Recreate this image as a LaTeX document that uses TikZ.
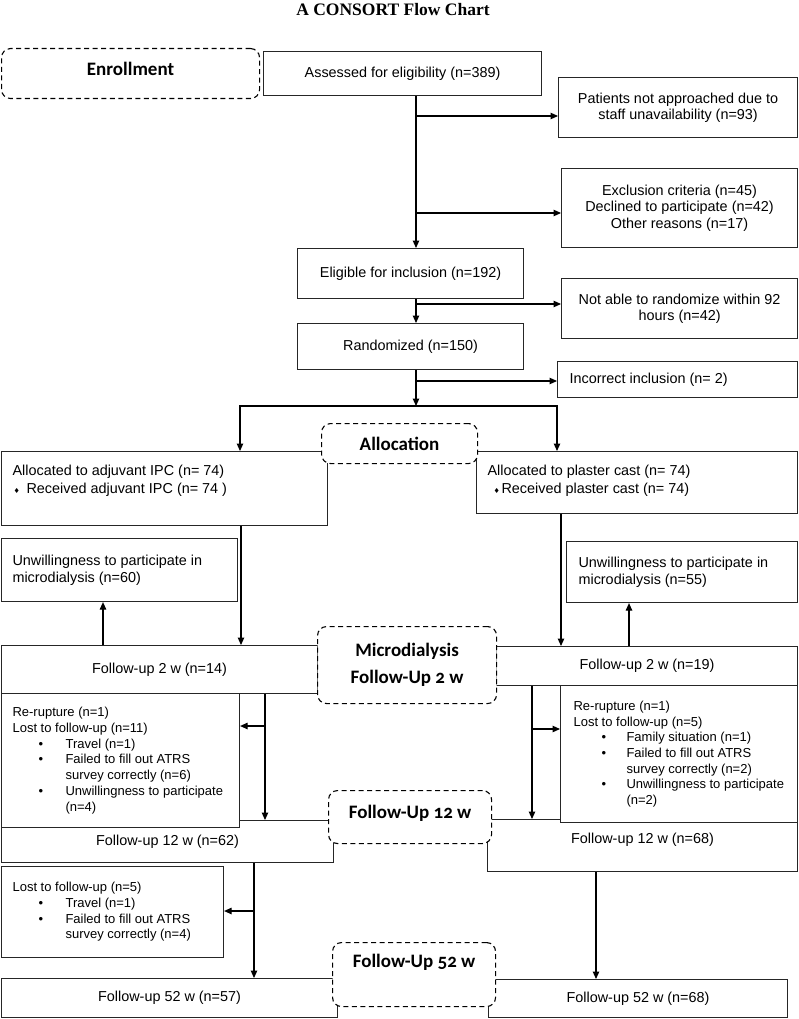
\documentclass[tikz,border=0pt]{standalone}
\usepackage{fontspec}
\setmainfont{Liberation Sans}
\newfontfamily\titlefont{Liberation Serif}
\newfontfamily\labfont{Carlito}[Numbers=OldStyle]
\newfontfamily\symfont{DejaVu Sans}
\usetikzlibrary{arrows.meta}
\newcommand\bx[8]{\node[#1] (#2) at (#3,#4) {\parbox[c][\dimexpr #6pt-#4pt\relax][#7]{\dimexpr #5pt-#3pt\relax}{#8}};}
\newcommand\bul[3]{\hspace*{#1}\makebox[#2][l]{\textbullet}#3}
\newcommand\dmd[1]{\makebox[14pt][l]{\hspace{#1}{\symfont\fontsize{7}{7}\selectfont ♦}}}
\tikzset{
 box/.style={draw=black!85, line width=1.1pt, fill=white, inner sep=0pt, anchor=north west, font=\fontsize{14.4}{16.5}\selectfont},
 sbox/.style={box, font=\fontsize{13}{15.7}\selectfont},
 lab/.style={box, draw=black, dash pattern=on 5pt off 3.5pt, rounded corners=9pt, font=\labfont\bfseries\fontsize{19}{27}\selectfont},
 arr/.style={draw=black, line width=1.1pt, -{Triangle[length=7.5pt,width=6.5pt]}},
 ln/.style={draw=black, line width=1.1pt}
}
\begin{document}
\begin{tikzpicture}[x=1pt,y=-1pt]
\useasboundingbox (0,0) rectangle (798,1019);
\node[font=\titlefont\bfseries\fontsize{17.5}{20}\selectfont] (title) at (393,10) {A CONSORT Flow Chart};
% solid boxes
\bx{box}{assess}{263}{51}{541}{95}{c}{\centering Assessed for eligibility (n=389)}
\bx{box}{pat}{558}{77}{797}{137}{c}{\centering Patients not approached due to\\ staff unavailability (n=93)}
\bx{box}{excl}{561}{168}{797}{247}{c}{\centering Exclusion criteria (n=45)\\ Declined to participate (n=42)\\ Other reasons (n=17)}
\bx{box}{elig}{297}{248}{523}{298}{c}{\centering Eligible for inclusion (n=192)}
\bx{box}{notrand}{561}{278}{797}{338}{c}{\centering Not able to randomize within 92\\ hours (n=42)}
\bx{box}{rand}{297}{323}{523}{369}{c}{\centering Randomized (n=150)}
\bx{box}{incorr}{557}{361}{797}{397}{c}{\raggedright\leftskip=12pt Incorrect inclusion (n= 2)}
\bx{box}{allocL}{1}{451}{327}{525}{t}{\vspace*{14pt}\raggedright\leftskip=11pt\baselineskip=18pt Allocated to adjuvant IPC (n= 74)\\ \dmd{1pt}Received adjuvant IPC (n= 74 )}
\bx{box}{allocR}{476}{451}{797}{513}{t}{\vspace*{14pt}\raggedright\leftskip=11pt\baselineskip=18pt Allocated to plaster cast (n= 74)\\ \dmd{6pt}Received plaster cast (n= 74)}
\bx{box}{unwL}{1}{538}{237}{601}{c}{\raggedright\leftskip=11pt Unwillingness to participate in\\ microdialysis (n=60)}
\bx{box}{unwR}{566}{541}{797}{602}{c}{\raggedright\leftskip=12pt Unwillingness to participate in\\ microdialysis (n=55)}
\bx{box}{fu2L}{1}{645}{317}{693}{c}{\centering Follow-up 2 w (n=14)}
\bx{box}{fu2R}{496}{646}{797}{685}{c}{\centering Follow-up 2 w (n=19)}
\bx{box}{fu12L}{1}{820}{333}{862}{c}{\centering Follow-up 12 w (n=62)}
\bx{box}{fu12R}{487}{819}{797}{871}{t}{\vspace*{14pt}\centering Follow-up 12 w (n=68)}
\bx{sbox}{exL}{1}{693}{239}{827}{c}{\raggedright\leftskip=11pt Re-rupture (n=1)\\ Lost to follow-up (n=11)\\ \bul{26pt}{27pt}{Travel (n=1)}\\ \bul{26pt}{27pt}{Failed to fill out ATRS}\\ \hspace*{53pt}survey correctly (n=6)\\ \bul{26pt}{27pt}{Unwillingness to participate}\\ \hspace*{53pt}(n=4)}
\bx{sbox}{exR}{560}{685}{797}{822}{c}{\raggedright\leftskip=13pt Re-rupture (n=1)\\ Lost to follow-up (n=5)\\ \bul{28pt}{25pt}{Family situation (n=1)}\\ \bul{28pt}{25pt}{Failed to fill out ATRS}\\ \hspace*{53pt}survey correctly (n=2)\\ \bul{28pt}{25pt}{Unwillingness to participate}\\ \hspace*{53pt}(n=2)}
\bx{sbox}{lostL}{1}{866}{223}{957}{c}{\raggedright\leftskip=11pt Lost to follow-up (n=5)\\ \bul{26pt}{27pt}{Travel (n=1)}\\ \bul{26pt}{27pt}{Failed to fill out ATRS}\\ \hspace*{53pt}survey correctly (n=4)}
\bx{box}{fu52L}{1}{978}{337}{1017}{c}{\centering Follow-up 52 w (n=57)}
\bx{box}{fu52R}{488}{979}{787}{1017}{c}{\centering Follow-up 52 w (n=68)}
% dashed stage labels
\bx{lab}{enroll}{1}{48}{259}{98}{t}{\vspace*{14pt}\centering Enrollment}
\bx{lab}{alloc}{321}{423}{477}{463}{c}{\centering Allocation}
\bx{lab}{micro}{317}{626}{496}{703}{c}{\centering Microdialysis\\ Follow-Up 2 w}
\bx{lab}{fu12lab}{328}{790}{491}{843}{t}{\vspace*{15pt}\centering Follow-Up 12 w}
\bx{lab}{fu52lab}{332}{942}{495}{1006}{t}{\vspace*{12pt}\centering Follow-Up 52 w}
% connector columns and branch points
\coordinate (xA) at (416,0);
\coordinate (b1) at (416,116);
\coordinate (b2) at (416,213);
\coordinate (b3) at (416,304);
\coordinate (b4) at (416,381);
\coordinate (sp) at (416,406);
\coordinate (xL) at (240,0);
\coordinate (xR) at (557,0);
\coordinate (xB) at (241,0);
\coordinate (xC) at (103,0);
\coordinate (xD) at (561,0);
\coordinate (xE) at (629,0);
\coordinate (xF) at (265,0);
\coordinate (b5) at (265,726);
\coordinate (xG) at (532,0);
\coordinate (b6) at (532,729);
\coordinate (xH) at (254,0);
\coordinate (b7) at (254,911);
\coordinate (xI) at (596,0);
% connectors
\draw[arr] (assess.south -| xA) -- (elig.north -| xA);
\draw[arr] (b1) -- (b1 -| pat.west);
\draw[arr] (b2) -- (b2 -| excl.west);
\draw[arr] (elig.south -| xA) -- (rand.north -| xA);
\draw[arr] (b3) -- (b3 -| notrand.west);
\draw[arr] (rand.south -| xA) -- (sp);
\draw[arr] (b4) -- (b4 -| incorr.west);
\draw[arr] (sp) -| (allocL.north -| xL);
\draw[arr] (sp) -| (allocR.north -| xR);
\draw[arr] (allocL.south -| xB) -- (fu2L.north -| xB);
\draw[arr] (fu2L.north -| xC) -- (unwL.south -| xC);
\draw[arr] (allocR.south -| xD) -- (fu2R.north -| xD);
\draw[arr] (fu2R.north -| xE) -- (unwR.south -| xE);
\draw[arr] (fu2L.south -| xF) -- (fu12L.north -| xF);
\draw[arr] (b5) -- (b5 -| exL.east);
\draw[arr] (fu2R.south -| xG) -- (fu12R.north -| xG);
\draw[arr] (b6) -- (b6 -| exR.west);
\draw[arr] (fu12L.south -| xH) -- (fu52L.north -| xH);
\draw[arr] (b7) -- (b7 -| lostL.east);
\draw[arr] (fu12R.south -| xI) -- (fu52R.north -| xI);
\end{tikzpicture}
\end{document}
